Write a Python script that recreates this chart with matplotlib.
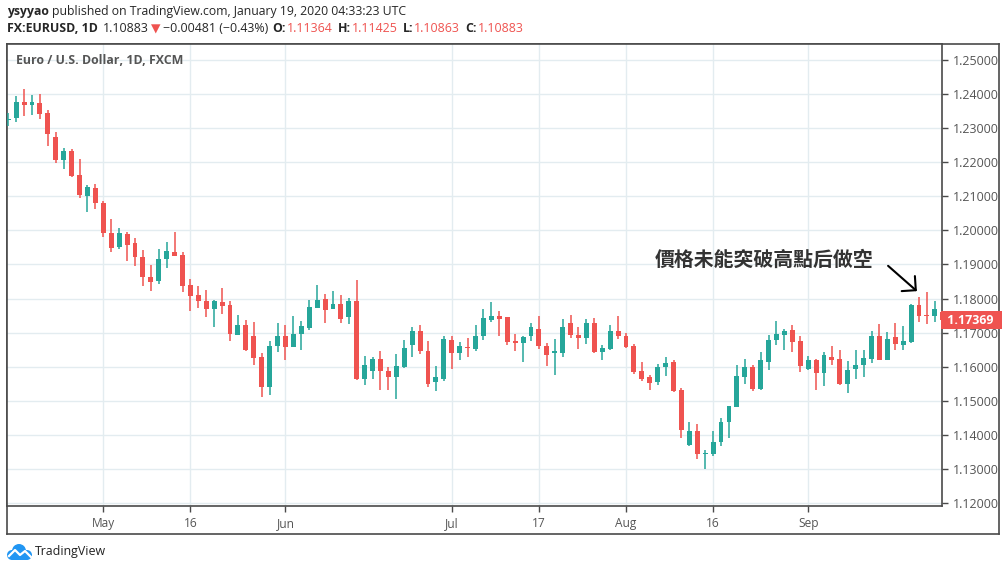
import matplotlib
matplotlib.use("Agg")
import matplotlib.pyplot as plt
import pandas as pd
from matplotlib.patches import Circle, Polygon
from matplotlib.transforms import blended_transform_factory

# EUR/USD daily candles, FXCM, 2018-04-13 .. 2018-09-26
opens = [1.2325, 1.2329, 1.2378, 1.2369, 1.2374, 1.2344, 1.2273, 1.2207, 1.2233, 1.2162,
         1.2101, 1.2123, 1.2080, 1.1991, 1.1951, 1.1988, 1.1964, 1.1923, 1.1864, 1.1851,
         1.1917, 1.1937, 1.1927, 1.1839, 1.1809, 1.1794, 1.1770, 1.1790, 1.1780, 1.1694,
         1.1721, 1.1689, 1.1628, 1.1540, 1.1660, 1.1691, 1.1657, 1.1697, 1.1714, 1.1773,
         1.1800, 1.1770, 1.1783, 1.1745, 1.1792, 1.1565, 1.1587, 1.1624, 1.1588, 1.1569,
         1.1599, 1.1663, 1.1706, 1.1647, 1.1554, 1.1564, 1.1677, 1.1640, 1.1658, 1.1653,
         1.1689, 1.1738, 1.1750, 1.1745, 1.1674, 1.1670, 1.1689, 1.1712, 1.1662, 1.1640,
         1.1640, 1.1727, 1.1694, 1.1684, 1.1729, 1.1643, 1.1653, 1.1706, 1.1691, 1.1662,
         1.1586, 1.1569, 1.1554, 1.1598, 1.1613, 1.1531, 1.1371, 1.1412, 1.1344, 1.1344,
         1.1378, 1.1437, 1.1481, 1.1570, 1.1598, 1.1535, 1.1613, 1.1678, 1.1692, 1.1709,
         1.1675, 1.1593, 1.1619, 1.1582, 1.1629, 1.1623, 1.1550, 1.1593, 1.1604, 1.1624,
         1.1691, 1.1621, 1.1686, 1.1665, 1.1672, 1.1780, 1.1752, 1.1748, 1.1760]
highs = [1.2346, 1.2395, 1.2415, 1.2397, 1.2400, 1.2353, 1.2290, 1.2243, 1.2238, 1.2211,
         1.2133, 1.2137, 1.2086, 1.2033, 1.2008, 1.1996, 1.1979, 1.1942, 1.1898, 1.1946,
         1.1967, 1.1996, 1.1936, 1.1856, 1.1838, 1.1824, 1.1797, 1.1832, 1.1792, 1.1753,
         1.1736, 1.1731, 1.1640, 1.1675, 1.1727, 1.1721, 1.1748, 1.1734, 1.1797, 1.1841,
         1.1812, 1.1822, 1.1809, 1.1802, 1.1853, 1.1631, 1.1628, 1.1647, 1.1599, 1.1637,
         1.1677, 1.1716, 1.1722, 1.1675, 1.1603, 1.1691, 1.1689, 1.1673, 1.1684, 1.1721,
         1.1768, 1.1790, 1.1763, 1.1745, 1.1697, 1.1689, 1.1729, 1.1748, 1.1670, 1.1680,
         1.1741, 1.1753, 1.1717, 1.1741, 1.1743, 1.1665, 1.1722, 1.1748, 1.1699, 1.1668,
         1.1614, 1.1577, 1.1608, 1.1629, 1.1621, 1.1537, 1.1437, 1.1433, 1.1356, 1.1412,
         1.1449, 1.1486, 1.1604, 1.1624, 1.1606, 1.1642, 1.1694, 1.1735, 1.1712, 1.1721,
         1.1691, 1.1631, 1.1623, 1.1642, 1.1662, 1.1650, 1.1618, 1.1648, 1.1650, 1.1704,
         1.1724, 1.1701, 1.1727, 1.1719, 1.1785, 1.1804, 1.1819, 1.1794, 1.1768]
lows = [1.2307, 1.2319, 1.2336, 1.2338, 1.2327, 1.2248, 1.2199, 1.2180, 1.2158, 1.2095,
        1.2054, 1.2062, 1.1980, 1.1936, 1.1944, 1.1910, 1.1897, 1.1837, 1.1822, 1.1844,
        1.1890, 1.1925, 1.1819, 1.1763, 1.1773, 1.1746, 1.1716, 1.1756, 1.1675, 1.1692,
        1.1645, 1.1606, 1.1510, 1.1516, 1.1642, 1.1619, 1.1657, 1.1650, 1.1709, 1.1773,
        1.1727, 1.1768, 1.1729, 1.1724, 1.1562, 1.1545, 1.1565, 1.1531, 1.1533, 1.1506,
        1.1596, 1.1628, 1.1638, 1.1539, 1.1528, 1.1557, 1.1593, 1.1619, 1.1629, 1.1647,
        1.1678, 1.1731, 1.1689, 1.1663, 1.1647, 1.1613, 1.1675, 1.1652, 1.1603, 1.1575,
        1.1629, 1.1684, 1.1653, 1.1667, 1.1640, 1.1619, 1.1648, 1.1682, 1.1655, 1.1580,
        1.1559, 1.1531, 1.1547, 1.1572, 1.1526, 1.1390, 1.1366, 1.1330, 1.1299, 1.1337,
        1.1366, 1.1392, 1.1481, 1.1550, 1.1530, 1.1533, 1.1591, 1.1663, 1.1650, 1.1642,
        1.1584, 1.1589, 1.1531, 1.1542, 1.1606, 1.1547, 1.1523, 1.1565, 1.1569, 1.1611,
        1.1621, 1.1619, 1.1650, 1.1650, 1.1670, 1.1731, 1.1724, 1.1731, 1.1735]
closes = [1.2328, 1.2378, 1.2369, 1.2377, 1.2343, 1.2284, 1.2207, 1.2233, 1.2160, 1.2104,
          1.2126, 1.2080, 1.1991, 1.1949, 1.1991, 1.1957, 1.1923, 1.1864, 1.1849, 1.1917,
          1.1939, 1.1925, 1.1837, 1.1807, 1.1792, 1.1770, 1.1794, 1.1778, 1.1696, 1.1721,
          1.1648, 1.1626, 1.1540, 1.1662, 1.1691, 1.1657, 1.1696, 1.1719, 1.1775, 1.1797,
          1.1766, 1.1783, 1.1741, 1.1794, 1.1564, 1.1606, 1.1624, 1.1586, 1.1569, 1.1603,
          1.1655, 1.1706, 1.1647, 1.1550, 1.1570, 1.1682, 1.1640, 1.1660, 1.1654, 1.1691,
          1.1743, 1.1750, 1.1741, 1.1672, 1.1669, 1.1686, 1.1716, 1.1660, 1.1635, 1.1645,
          1.1717, 1.1692, 1.1683, 1.1729, 1.1642, 1.1655, 1.1704, 1.1689, 1.1657, 1.1584,
          1.1565, 1.1552, 1.1599, 1.1611, 1.1528, 1.1413, 1.1412, 1.1344, 1.1348, 1.1379,
          1.1438, 1.1484, 1.1572, 1.1598, 1.1535, 1.1621, 1.1677, 1.1697, 1.1706, 1.1672,
          1.1601, 1.1621, 1.1582, 1.1633, 1.1621, 1.1550, 1.1591, 1.1606, 1.1626, 1.1691,
          1.1621, 1.1681, 1.1667, 1.1675, 1.1782, 1.1748, 1.1750, 1.1768, 1.1737]

first_day = "2018-04-13"
tick_dates = ["2018-05-01", "2018-05-16", "2018-06-01", "2018-07-02",
              "2018-07-17", "2018-08-01", "2018-08-16", "2018-09-03"]
tick_labels = ["May", "16", "Jun", "Jul", "17", "Aug", "16", "Sep"]
price_ticks = [1.12, 1.13, 1.14, 1.15, 1.16, 1.17, 1.18, 1.19, 1.20, 1.21, 1.22, 1.23, 1.24, 1.25]
last_price = 1.17369
note = "價格未能突破高點后做空"

UP = "#26a69a"
DOWN = "#ef5350"
FRAME = "#4a4a4a"
GRID = "#e3ecf0"
TXT = "#555555"
W, H = 1006, 571

plt.rcParams["font.family"] = ["Open Sans", "DejaVu Sans"]

days = pd.bdate_range(first_day, periods=len(opens))
tick_pos = [days.get_loc(pd.Timestamp(d)) for d in tick_dates]


def fx(px):
    return px / W


def fy(py):
    return 1 - py / H


fig = plt.figure(figsize=(W / 100, H / 100), dpi=100)

# outer frame (price axis + time axis included)
frame = fig.add_axes([fx(7), fy(534), fx(999) - fx(7), fy(44) - fy(534)])
frame.set_xticks([])
frame.set_yticks([])
for s in frame.spines.values():
    s.set_color(FRAME)
    s.set_linewidth(1.2)
frame.set_zorder(0)

ax = fig.add_axes([fx(7), fy(506), fx(942) - fx(7), fy(44) - fy(506)])
ax.set_zorder(1)
for s in ax.spines.values():
    s.set_color(FRAME)
    s.set_linewidth(1.2)

for i in range(len(opens)):
    o, h, l, c = opens[i], highs[i], lows[i], closes[i]
    col = UP if c >= o else DOWN
    ax.vlines(i, l, h, color=col, linewidth=1.1, zorder=3)
    ax.bar(i, max(abs(c - o), 0.00004), bottom=min(o, c), width=0.62,
           color=col, edgecolor=col, linewidth=0, zorder=4)

ax.set_xlim(-0.16, 117.9)
ax.set_ylim(1.119118, 1.254706)

ax.set_yticks(price_ticks)
ax.set_yticklabels(["%.5f" % p for p in price_ticks])
ax.yaxis.tick_right()
ax.set_xticks(tick_pos)
ax.set_xticklabels(tick_labels)
ax.tick_params(axis="y", length=4, width=1, color=FRAME, labelcolor=TXT,
               labelsize=8.9, pad=4)
ax.tick_params(axis="x", length=4, width=1, color=FRAME, labelcolor=TXT,
               labelsize=8.6, pad=4)
ax.grid(True, color=GRID, linewidth=1, zorder=0)
ax.set_axisbelow(True)

# last price label on the price axis
tr = blended_transform_factory(ax.transAxes, ax.transData)
ax.text(1.002, last_price, " 1.17369  ", transform=tr, ha="left", va="center",
        color="white", fontsize=8.9, fontweight="bold", clip_on=False, zorder=6,
        bbox=dict(boxstyle="square,pad=0.2", fc=DOWN, ec="none"))

ax.text(9 / 935, 1 - 17 / 462, "Euro / U.S. Dollar, 1D, FXCM", transform=ax.transAxes,
        ha="left", va="center", fontsize=8.9, fontweight="bold", color="#555555")

# annotation
fig.text(fx(655), fy(259), note, family=["Noto Sans CJK TC", "DejaVu Sans"],
         fontsize=14.3, fontweight="bold", color="#333333", ha="left", va="center")
ax.annotate("", xy=(fx(919), fy(293)), xytext=(fx(886), fy(264)),
            xycoords="figure fraction", textcoords="figure fraction",
            arrowprops=dict(arrowstyle="->,head_length=0.6,head_width=0.6",
                            mutation_scale=12, lw=1.5, color="black"))

# header rows, pieces placed one after the other
renderer = fig.canvas.get_renderer()


def put_row(x_px, y_px, pieces, size):
    x = x_px
    for s, col, wt, gap in pieces:
        x += gap
        t = fig.text(fx(x), fy(y_px), s, color=col, fontweight=wt, fontsize=size,
                     ha="left", va="center")
        x += t.get_window_extent(renderer).width


DARK = "#262626"
put_row(7, 12, [("ysyyao", DARK, "bold", 0),
                ("published on TradingView.com, January 19, 2020 04:33:23 UTC", DARK, "normal", 3)], 8.8)
put_row(7, 29, [("FX:EURUSD, 1D", DARK, "bold", 0),
                ("1.10883", DARK, "normal", 5),
                ("\u25bc", DOWN, "normal", 2),
                ("\u22120.00481 (\u22120.43%)", DARK, "normal", 3),
                ("O:", DARK, "bold", 4), ("1.11364", DOWN, "normal", 1),
                ("H:", DARK, "bold", 5), ("1.11425", DOWN, "normal", 1),
                ("L:", DARK, "bold", 5), ("1.10863", DOWN, "normal", 1),
                ("C:", DARK, "bold", 5), ("1.10883", DOWN, "normal", 1)], 8.9)

# TradingView logo
logo = fig.add_axes([fx(6), fy(561), fx(33) - fx(6), fy(543) - fy(561)])
logo.set_xlim(0, 27)
logo.set_ylim(0, 18)
logo.axis("off")
BLUE = "#2196f3"
for cx, cy, r in [(6, 6, 5), (13, 10, 7), (21, 6, 5)]:
    logo.add_patch(Circle((cx, cy), r, color=BLUE, lw=0))
logo.add_patch(Polygon([(6, 1), (21, 1), (21, 6), (6, 6)], color=BLUE, lw=0))
logo.plot([3, 9, 14, 19, 25], [5, 11, 6, 10, 4], color="white", lw=1.6)
fig.text(fx(35), fy(552), "TradingView", fontsize=8.9, color="#222222", ha="left", va="center")

fig.savefig("out.png", dpi=100)
